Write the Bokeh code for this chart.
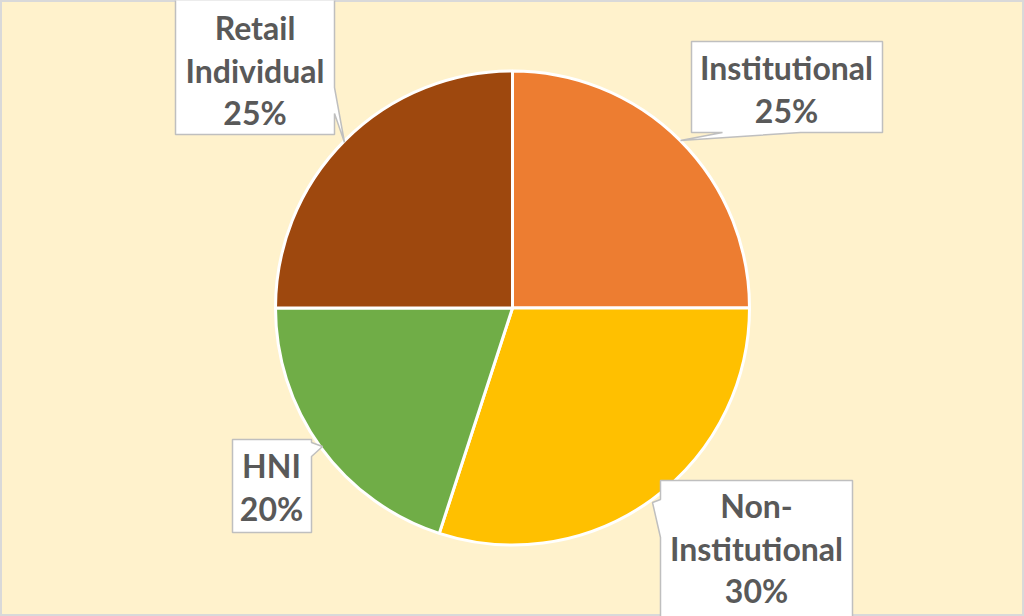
import math
from bokeh.plotting import figure
from bokeh.models import Range1d, ColumnDataSource, GlobalInlineStyleSheet
from bokeh.core.properties import value
from bokeh.embed import file_html
from bokeh.resources import INLINE

# ---- data ----
categories = ["Institutional", "Non-Institutional", "HNI", "Retail Individual"]
shares = [25, 30, 20, 25]
label_names = ["Institutional", "Non-\nInstitutional", "HNI", "Retail\nIndividual"]
colors = ["#ED7D31", "#FFC000", "#70AD47", "#9E480E"]

# ---- layout (screen pixel coordinates of the 1024x616 window) ----
W, H = 1024, 616
BG = "#FFF2CC"
TEXT = "#595959"
BOX_LINE = "#BFBFBF"

def Y(sy):
    return H - sy

cx, cy, R = 512, 307.5, 237

# callout label anchors: (center x, first baseline y)
label_anchor = {
    "Institutional": (786, 67),
    "Non-Institutional": (756, 505),
    "HNI": (271, 465),
    "Retail Individual": (254.5, 27),
}
line_h = 42.5

callouts = {
    "Institutional": [(691, 41), (882, 41), (882, 132), (800, 132), (680, 140), (722, 132), (691, 132)],
    "Non-Institutional": [(660, 480), (852, 480), (852, 630), (660, 630), (660, 537), (652, 502), (660, 499)],
    "HNI": [(232, 439), (311, 439), (311, 442), (322, 446), (311, 456), (311, 532), (232, 532)],
    "Retail Individual": [(175, -10), (334, -10), (334, 87), (344, 142), (334, 113), (334, 134), (175, 134)],
}

p = figure(width=W, height=H,
           x_range=Range1d(0, W), y_range=Range1d(0, H),
           output_backend="svg", toolbar_location=None, min_border=0,
           background_fill_color=BG, border_fill_color=BG)
p.xaxis.visible = False
p.yaxis.visible = False
p.grid.visible = False
p.outline_line_color = "#D9D9D9"
p.outline_line_width = 3
p.stylesheets = [GlobalInlineStyleSheet(
    css="html, body { margin: 0; padding: 0; overflow: hidden; background: %s; }" % BG)]

# pie wedges (clockwise from 12 o'clock)
total = float(sum(shares))
starts, ends = [], []
acc = 0.0
for s in shares:
    a0 = math.pi / 2 - 2 * math.pi * acc / total
    acc += s
    a1 = math.pi / 2 - 2 * math.pi * acc / total
    starts.append(a0)
    ends.append(a1)

src = ColumnDataSource(dict(x=[cx] * len(shares), y=[Y(cy)] * len(shares),
                            start=starts, end=ends, color=colors, cat=categories))
p.wedge(x="x", y="y", radius=R, start_angle="start", end_angle="end",
        direction="clock", fill_color="color", line_color="white", line_width=3,
        source=src)

# callout boxes
xs, ys = [], []
for c in categories:
    pts = callouts[c]
    xs.append([q[0] for q in pts])
    ys.append([Y(q[1]) for q in pts])
p.patches(xs, ys, fill_color="white", line_color=BOX_LINE, line_width=1.5)

# label texts
tx, ty, tt = [], [], []
for c, name, s in zip(categories, label_names, shares):
    lines = (name + "\n" + f"{s}%").split("\n")
    ax, ay = label_anchor[c]
    for i, ln in enumerate(lines):
        tx.append(ax)
        ty.append(Y(ay + i * line_h))
        tt.append(ln)
p.text(tx, ty, text=tt, text_font=value("Lato"), text_font_style="bold",
       text_font_size="32px", text_color=TEXT, text_align="center",
       text_baseline="alphabetic")

open("out.html", "w").write(file_html(p, INLINE))
